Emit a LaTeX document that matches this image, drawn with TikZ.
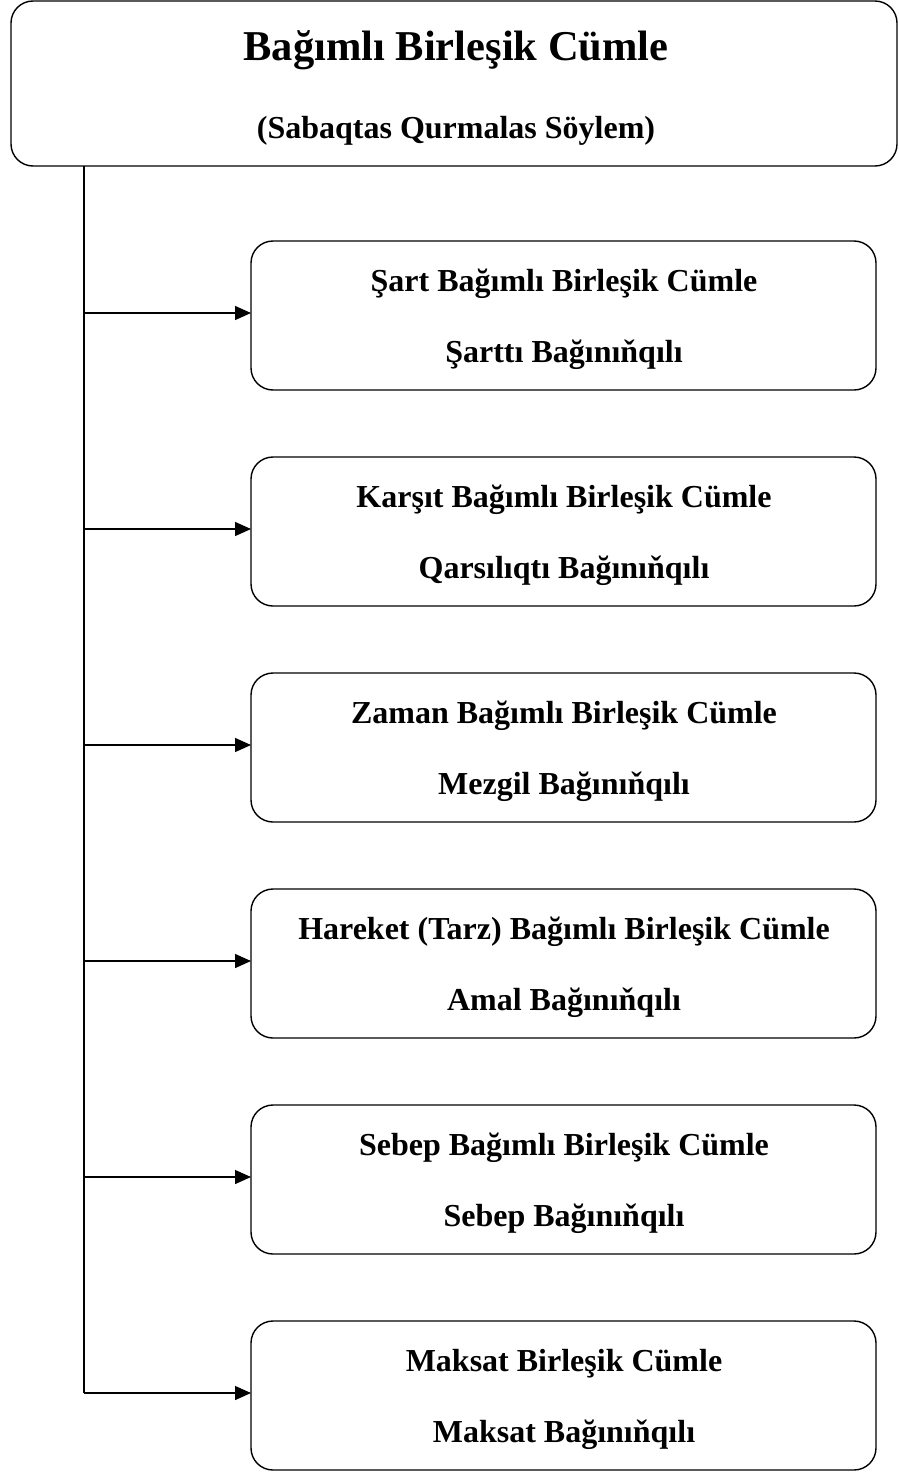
\documentclass[tikz,border=0pt]{standalone}
\usepackage{fontspec}
\setmainfont{Liberation Serif}
\usetikzlibrary{arrows.meta}
\begin{document}
\begin{tikzpicture}[x=1pt,y=-1pt,
  box/.style={draw,line width=1.4pt,rounded corners=22pt},
  lbl/.style={font=\bfseries\fontsize{32}{36}\selectfont,inner sep=0pt,anchor=base},
  conn/.style={line width=1.4pt,-{Triangle[length=16pt,width=14pt]}}]
\useasboundingbox (0,0) rectangle (898,1472);
\draw[box] (11,1) rectangle (897,166);
\node[lbl,font=\bfseries\fontsize{42.5}{46}\selectfont] (t1) at (456,61) {Bağımlı Birleşik Cümle};
\node[lbl] (t2) at (456,138) {(Sabaqtas Qurmalas Söylem)};
\coordinate (top) at (84,166);
\coordinate (bot) at (84,1393);
\draw[line width=1.4pt] (top) -- (bot);
\foreach \i/\yt/\a/\b in {
 0/241/Şart Bağımlı Birleşik Cümle/Şarttı Bağınıňqılı,
 1/457/Karşıt Bağımlı Birleşik Cümle/Qarsılıqtı Bağınıňqılı,
 2/673/Zaman Bağımlı Birleşik Cümle/Mezgil Bağınıňqılı,
 3/889/Hareket (Tarz) Bağımlı Birleşik Cümle/Amal Bağınıňqılı,
 4/1105/Sebep Bağımlı Birleşik Cümle/Sebep Bağınıňqılı,
 5/1321/Maksat Birleşik Cümle/Maksat Bağınıňqılı}{
  \draw[box] (251,\yt) rectangle (876,\yt+149);
  \node[lbl] (a\i) at (564,\yt+50) {\a};
  \node[lbl] (b\i) at (564,\yt+121) {\b};
  \coordinate (s\i) at (84,\yt+72);
  \coordinate (e\i) at (251,\yt+72);
  \draw[conn] (s\i) -- (e\i);
}
\end{tikzpicture}
\end{document}
